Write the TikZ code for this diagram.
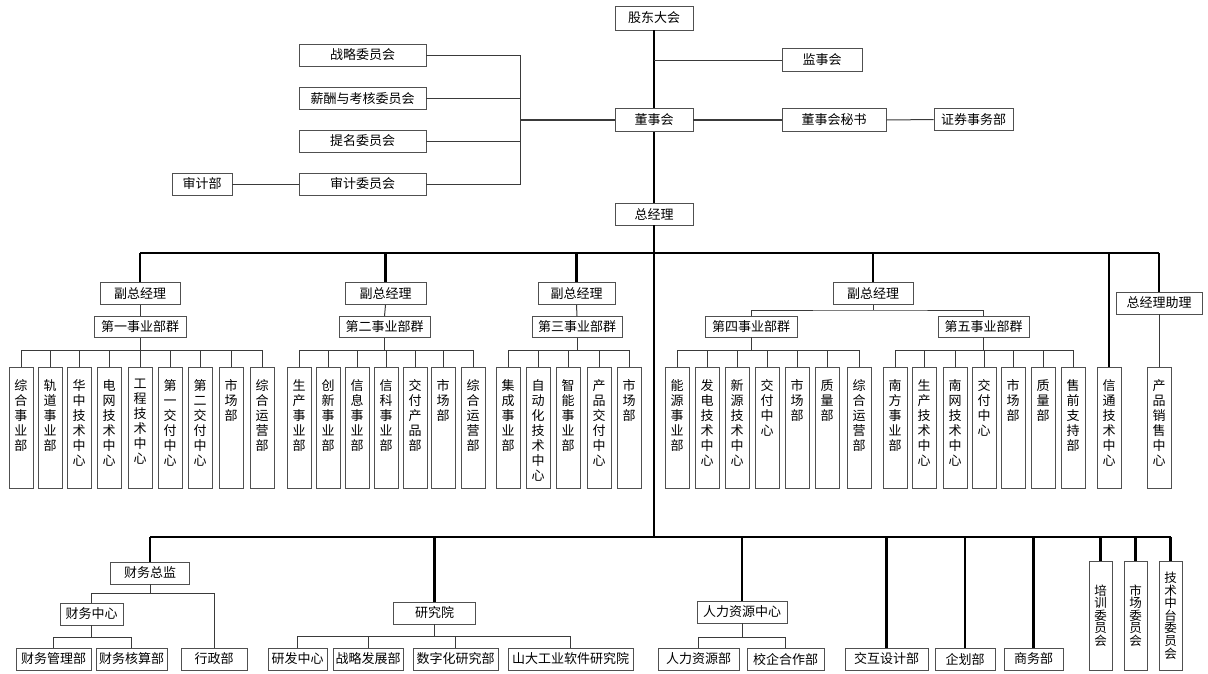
\documentclass[tikz,border=0pt]{standalone}
\usepackage{fontspec}
\newfontfamily\cjk{Noto Sans CJK SC}
\definecolor{bc}{HTML}{505050}
\definecolor{lc}{HTML}{3A3A3A}
\tikzset{
  box/.style={draw=bc, line width=0.9pt, fill=white, inner sep=0pt, minimum height=22pt, font=\cjk\fontsize{13}{15}\selectfont},
  leaf/.style={draw=bc, line width=0.9pt, fill=white, inner sep=0pt, anchor=north, font=\cjk\fontsize{13}{15}\selectfont},
  vcom/.style={draw=bc, line width=0.9pt, fill=white, inner sep=0pt, font=\cjk\fontsize{12.5}{12.6}\selectfont},
  thk/.style={line width=2.2pt, black},
  thn/.style={line width=1pt, lc},
}
\newcommand{\vt}[1]{\parbox[c][121pt][t]{24pt}{\centering\vspace*{12pt}#1\par}}
\newcommand{\vc}[1]{\parbox[c][109pt][c]{23pt}{\centering #1\par}}
\newcommand{\lf}[3]{\node[leaf] (#1) at (#2,367) {\vt{#3}};}
\begin{document}
\begin{tikzpicture}[x=1pt,y=-1pt]
\useasboundingbox (0,0) rectangle (1208,673);
\fill[white] (0,0) rectangle (1208,673);
% ---------- top ----------
\node[box, minimum width=78pt, minimum height=24pt] (gd) at (654,18) {股东大会};
\node[box, minimum width=80pt, minimum height=23pt] (js) at (822,60) {监事会};
\node[box, minimum width=78pt, minimum height=23pt] (dsh) at (654,120) {董事会};
\node[box, minimum width=104pt, minimum height=23pt] (ms) at (834,120) {董事会秘书};
\node[box, minimum width=79pt] (zq) at (973.5,119.5) {证券事务部};
\node[box, minimum width=127pt] (zl) at (362.5,55) {战略委员会};
\node[box, minimum width=127pt] (xc) at (362.5,98.5) {薪酬与考核委员会};
\node[box, minimum width=127pt] (tm) at (362.5,141) {提名委员会};
\node[box, minimum width=127pt] (sjw) at (362.5,184) {审计委员会};
\node[box, minimum width=60pt] (sjb) at (202,184) {审计部};
\node[box, minimum width=78pt] (zjl) at (654,214) {总经理};
\coordinate (jsj) at (654,60);
\coordinate (brk) at (520,120);
\draw[thk] (gd.south) -- (dsh.north);
\draw[thk] (dsh.south) -- (zjl.north);
\draw[thn] (jsj) -- (js.west);
\draw[line width=1.4pt, lc] (dsh.east) -- (ms.west);
\draw[thn] (ms.east) -- (zq.west);
\draw[thn] (zl.east) -- (zl.east -| brk) -- (sjw.east -| brk) -- (sjw.east);
\draw[thn] (xc.east) -- (xc.east -| brk);
\draw[thn] (tm.east) -- (tm.east -| brk);
\draw[line width=1.4pt, lc] (brk) -- (dsh.west);
\draw[thn] (sjb.east) -- (sjw.west);
% ---------- middle ----------
\coordinate (tb) at (654,253);
\coordinate (bb) at (654,537);
\coordinate (lb) at (0,350);
\coordinate (f4b) at (873,310);
\draw[thk] (zjl.south) -- (bb);
\node[box, minimum width=80pt] (f1) at (140,293.5) {副总经理};
\node[box, minimum width=81pt] (f2) at (385.5,293.5) {副总经理};
\node[box, minimum width=77pt] (f3) at (576.5,293.5) {副总经理};
\node[box, minimum width=80pt] (f4) at (873,293.5) {副总经理};
\node[box, minimum width=86pt] (zlzl) at (1159,303) {总经理助理};
\node[box, minimum width=92pt, minimum height=21pt] (q1) at (140,327) {第一事业部群};
\node[box, minimum width=91pt, minimum height=21pt] (q2) at (384.5,327) {第二事业部群};
\node[box, minimum width=90pt, minimum height=21pt] (q3) at (577,327) {第三事业部群};
\node[box, minimum width=92pt, minimum height=21pt] (q4) at (751,326.5) {第四事业部群};
\node[box, minimum width=91pt, minimum height=21pt] (q5) at (983.5,326.5) {第五事业部群};
% leaves
\lf{a1}{21}{综\\合\\事\\业\\部}
\lf{a2}{50}{轨\\道\\事\\业\\部}
\lf{a3}{79}{华\\中\\技\\术\\中\\心}
\lf{a4}{109}{电\\网\\技\\术\\中\\心}
\lf{a5}{140}{工\\程\\技\\术\\中\\心}
\lf{a6}{170}{第\\一\\交\\付\\中\\心}
\lf{a7}{200}{第\\二\\交\\付\\中\\心}
\lf{a8}{231}{市\\场\\部}
\lf{a9}{262}{综\\合\\运\\营\\部}
\lf{b1}{299}{生\\产\\事\\业\\部}
\lf{b2}{328}{创\\新\\事\\业\\部}
\lf{b3}{357}{信\\息\\事\\业\\部}
\lf{b4}{386}{信\\科\\事\\业\\部}
\lf{b5}{415}{交\\付\\产\\品\\部}
\lf{b6}{443}{市\\场\\部}
\lf{b7}{473}{综\\合\\运\\营\\部}
\lf{c1}{508}{集\\成\\事\\业\\部}
\lf{c2}{538}{自\\动\\化\\技\\术\\中\\心}
\lf{c3}{568}{智\\能\\事\\业\\部}
\lf{c4}{599}{产\\品\\交\\付\\中\\心}
\lf{c5}{629}{市\\场\\部}
\lf{d1}{677}{能\\源\\事\\业\\部}
\lf{d2}{707}{发\\电\\技\\术\\中\\心}
\lf{d3}{737}{新\\源\\技\\术\\中\\心}
\lf{d4}{767}{交\\付\\中\\心}
\lf{d5}{797}{市\\场\\部}
\lf{d6}{827}{质\\量\\部}
\lf{d7}{859}{综\\合\\运\\营\\部}
\lf{e1}{895}{南\\方\\事\\业\\部}
\lf{e2}{924}{生\\产\\技\\术\\中\\心}
\lf{e3}{955}{南\\网\\技\\术\\中\\心}
\lf{e4}{984}{交\\付\\中\\心}
\lf{e5}{1013}{市\\场\\部}
\lf{e6}{1043}{质\\量\\部}
\lf{e7}{1073}{售\\前\\支\\持\\部}
\lf{xt}{1109}{信\\通\\技\\术\\中\\心}
\lf{cp}{1159}{产\\品\\销\\售\\中\\心}
% top bus
\draw[thk] (tb -| f1) -- (tb -| zlzl);
\foreach \n in {f1,f2,f3,f4,zlzl,xt} \draw[thk] (tb -| \n) -- (\n.north);
\draw[thn] (zlzl.south) -- (cp.north);
\foreach \a/\b in {f1/q1,f2/q2,f3/q3} \draw[thn] (\a.south) -- (\b.north);
\draw[thn] (f4.south) -- (f4b);
\draw[thn] (q4.north) |- (f4b) -| (q5.north);
% leaf buses
\foreach \q/\s/\e in {q1/a1/a9,q2/b1/b7,q3/c1/c5,q4/d1/d7,q5/e1/e7} {
  \draw[thn] (\q.south) -- (\q.south |- lb);
  \draw[thn] (\s.north |- lb) -- (\e.north |- lb);
}
\foreach \n in {a1,a2,a3,a4,a5,a6,a7,a8,a9,b1,b2,b3,b4,b5,b6,b7,c1,c2,c3,c4,c5,d1,d2,d3,d4,d5,d6,d7,e1,e2,e3,e4,e5,e6,e7}
  \draw[thn] (\n.north |- lb) -- (\n.north);
% ---------- bottom ----------
\node[box, minimum width=79pt] (cw) at (150,573) {财务总监};
\node[box, minimum width=63pt] (cwzx) at (91.5,614) {财务中心};
\node[box, minimum width=66pt] (xz) at (214,659) {行政部};
\node[box, minimum width=75pt] (cwgl) at (53.5,659) {财务管理部};
\node[box, minimum width=71pt] (cwhs) at (131.5,659) {财务核算部};
\node[box, minimum width=82pt] (yjy) at (434.5,613) {研究院};
\node[box, minimum width=59pt] (yf) at (297.5,659) {研发中心};
\node[box, minimum width=70pt] (zlfz) at (368,659) {战略发展部};
\node[box, minimum width=85pt] (szh) at (455.5,659) {数字化研究部};
\node[box, minimum width=125pt] (sd) at (570.5,659) {山大工业软件研究院};
\node[box, minimum width=90pt] (rlzx) at (742,612) {人力资源中心};
\node[box, minimum width=81pt] (rlzy) at (698.5,659) {人力资源部};
\node[box, minimum width=77pt] (xq) at (785.5,659) {校企合作部};
\node[box, minimum width=83pt] (jh) at (886.5,659) {交互设计部};
\node[box, minimum width=60pt] (qh) at (965,659) {企划部};
\node[box, minimum width=59pt] (sw) at (1033.5,659) {商务部};
\node[vcom] (px) at (1100.5,615.5) {\vc{培\\训\\委\\员\\会}};
\node[vcom] (scw) at (1135.5,615.5) {\vc{市\\场\\委\\员\\会}};
\node[vcom] (jszt) at (1170.5,615.5) {\vc{技\\术\\中\\台\\委\\员\\会}};
\coordinate (cwb) at (150,593);
\coordinate (cwzb) at (91.5,637);
\coordinate (yjb) at (434.5,636);
\coordinate (rlb) at (742,637);
\draw[thk] (bb -| cw) -- (bb -| jszt);
\foreach \n in {cw,yjy,rlzx,jh,qh,sw,px,scw,jszt} \draw[thk] (bb -| \n) -- (\n.north);
\draw[thn] (cw.south) -- (cwb);
\draw[thn] (cwzx.north) |- (cwb) -| (xz.north);
\draw[thn] (cwzx.south) -- (cwzb);
\draw[thn] (cwgl.north) |- (cwzb) -| (cwhs.north);
\draw[thn] (yjy.south) -- (yjb);
\draw[thn] (yf.north) |- (yjb) -| (sd.north);
\draw[thn] (zlfz.north) -- (zlfz.north |- yjb);
\draw[thn] (szh.north) -- (szh.north |- yjb);
\draw[thn] (rlzx.south) -- (rlb);
\draw[thn] (rlzy.north) |- (rlb) -| (xq.north);
\end{tikzpicture}
\end{document}
